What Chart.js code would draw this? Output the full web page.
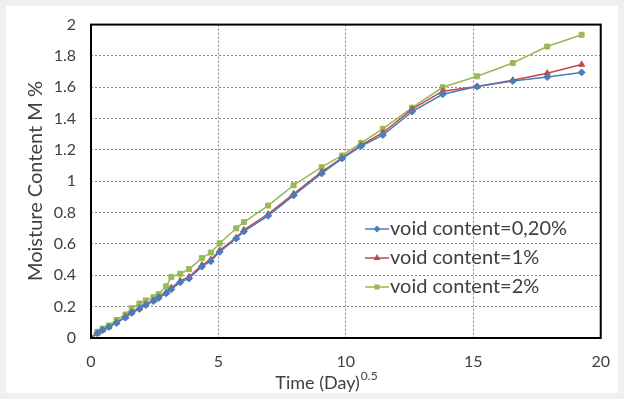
<!DOCTYPE html>
<html>
<head>
<meta charset="utf-8">
<script src="https://cdn.jsdelivr.net/npm/chart.js@4.4.1/dist/chart.umd.min.js"></script>
<style>
  html, body { margin: 0; padding: 0; background: #efefef; }
  #wrap { position: absolute; left: 6px; top: 6px; width: 612px; height: 387px; background: #ffffff; }
  canvas { position: absolute; left: 0; top: 0; }
</style>
</head>
<body>
<div id="wrap"></div>
<canvas id="c" width="624" height="399"></canvas>
<script>
// Square-root time (Day^0.5) at each weighing
const times = [0, 0.25, 0.45, 0.7, 1.0, 1.35, 1.6, 1.9, 2.15, 2.45, 2.65, 2.95, 3.15, 3.5, 3.85, 4.35, 4.7, 5.05, 5.7, 6.0, 6.95, 7.95, 9.05, 9.85, 10.6, 11.45, 12.6, 13.8, 15.15, 16.55, 17.9, 19.25];

// Moisture content M % for each void content
const void020 = [0, 0.03, 0.05, 0.07, 0.095, 0.13, 0.16, 0.185, 0.21, 0.235, 0.255, 0.285, 0.31, 0.355, 0.38, 0.455, 0.49, 0.55, 0.635, 0.68, 0.78, 0.91, 1.05, 1.145, 1.225, 1.295, 1.445, 1.555, 1.605, 1.64, 1.665, 1.695];
const void1   = [0, 0.03, 0.05, 0.07, 0.10, 0.135, 0.165, 0.19, 0.215, 0.24, 0.26, 0.29, 0.32, 0.365, 0.39, 0.465, 0.50, 0.56, 0.64, 0.69, 0.79, 0.92, 1.06, 1.15, 1.23, 1.31, 1.46, 1.575, 1.605, 1.645, 1.69, 1.745];
const void2   = [0, 0.04, 0.06, 0.08, 0.115, 0.15, 0.19, 0.22, 0.24, 0.26, 0.28, 0.33, 0.39, 0.41, 0.44, 0.51, 0.545, 0.605, 0.70, 0.74, 0.845, 0.975, 1.09, 1.165, 1.245, 1.335, 1.47, 1.60, 1.67, 1.755, 1.86, 1.935];

const seriesLabels = ['void content=0,20%', 'void content=1%', 'void content=2%'];
const xTicks = [0, 5, 10, 15, 20];
const yTicks = [0, 0.2, 0.4, 0.6, 0.8, 1, 1.2, 1.4, 1.6, 1.8, 2];

const FONT = 'Lato, "Liberation Sans", sans-serif';
const TEXT = '#404040';

function pts(ys) { return times.map((t, i) => ({ x: t, y: ys[i] })); }

const styles = [
  { color: '#4a7ebb', marker: 'rectRot', radius: 3.5 },
  { color: '#be4b48', marker: 'triangle', radius: 3.5 },
  { color: '#98b954', marker: 'rect', radius: 3.5 }
];
const values = [void020, void1, void2];

const datasets = values.map((v, i) => ({
  label: seriesLabels[i],
  data: pts(v),
  showLine: true,
  borderColor: styles[i].color,
  backgroundColor: styles[i].color,
  borderWidth: 1.5,
  pointStyle: styles[i].marker,
  pointRadius: styles[i].radius,
  pointBorderWidth: 1,
  tension: 0
}));

// Frame around the plot area, in-plot legend and axis titles
const decor = {
  id: 'decor',
  afterDraw(chart) {
    const { ctx, chartArea: a } = chart;
    ctx.save();
    ctx.strokeStyle = '#000000';
    ctx.lineWidth = 2;
    ctx.strokeRect(a.left, a.top, a.right - a.left, a.bottom - a.top);

    // legend
    const lx = 365, ly = 229, gap = 29;
    chart.data.datasets.forEach((ds, i) => {
      const y = ly + i * gap;
      ctx.strokeStyle = ds.borderColor;
      ctx.lineWidth = 1.5;
      ctx.beginPath();
      ctx.moveTo(lx, y);
      ctx.lineTo(lx + 24, y);
      ctx.stroke();
      ctx.fillStyle = ds.backgroundColor;
      ctx.strokeStyle = ds.borderColor;
      Chart.helpers.drawPoint(ctx, { pointStyle: ds.pointStyle, radius: 2.5, borderWidth: 1 }, lx + 12, y);
      ctx.fillStyle = TEXT;
      ctx.font = '20px ' + FONT;
      ctx.textAlign = 'left';
      ctx.textBaseline = 'middle';
      ctx.fillText(ds.label, lx + 25, y);
    });

    // x title with superscript exponent
    ctx.fillStyle = TEXT;
    ctx.textBaseline = 'alphabetic';
    ctx.font = '18px ' + FONT;
    const base = 'Time (Day)';
    const w1 = ctx.measureText(base).width;
    ctx.font = '12px ' + FONT;
    const w2 = ctx.measureText('0.5').width;
    const sx = 326 - (w1 + w2) / 2;
    ctx.font = '18px ' + FONT;
    ctx.textAlign = 'left';
    ctx.fillText(base, sx, 389);
    ctx.font = '12px ' + FONT;
    ctx.fillText('0.5', sx + w1 + 1, 380);

    // y title
    ctx.font = '20px ' + FONT;
    ctx.translate(36, 181);
    ctx.rotate(-Math.PI / 2);
    ctx.textAlign = 'center';
    ctx.textBaseline = 'middle';
    ctx.fillText('Moisture Content M %', 0, 0);
    ctx.restore();
  }
};

new Chart(document.getElementById('c'), {
  type: 'scatter',
  data: { datasets },
  plugins: [decor],
  options: {
    responsive: false,
    animation: false,
    layout: { padding: { top: 23, right: 12, left: 0, bottom: 0 } },
    plugins: { legend: { display: false }, tooltip: { enabled: false } },
    scales: {
      x: {
        type: 'linear',
        min: 0, max: 20,
        afterFit: s => { s.height = 399 - 338; },
        afterBuildTicks: s => { s.ticks = xTicks.map(v => ({ value: v })); },
        grid: { color: '#8a8a8a', lineWidth: 1, drawTicks: false },
        border: { display: false, dash: [2, 2] },
        ticks: { color: TEXT, font: { family: FONT, size: 16 }, padding: 14, maxRotation: 0 }
      },
      y: {
        type: 'linear',
        min: 0, max: 2,
        afterFit: s => { s.width = 91; },
        afterBuildTicks: s => { s.ticks = yTicks.map(v => ({ value: v })); },
        grid: { color: '#8a8a8a', lineWidth: 1, drawTicks: false },
        border: { display: false, dash: [2, 2] },
        ticks: {
          color: TEXT, font: { family: FONT, size: 16 }, padding: 15,
          callback: v => String(Number(v.toFixed(1)))
        }
      }
    }
  }
});
</script>
</body>
</html>
